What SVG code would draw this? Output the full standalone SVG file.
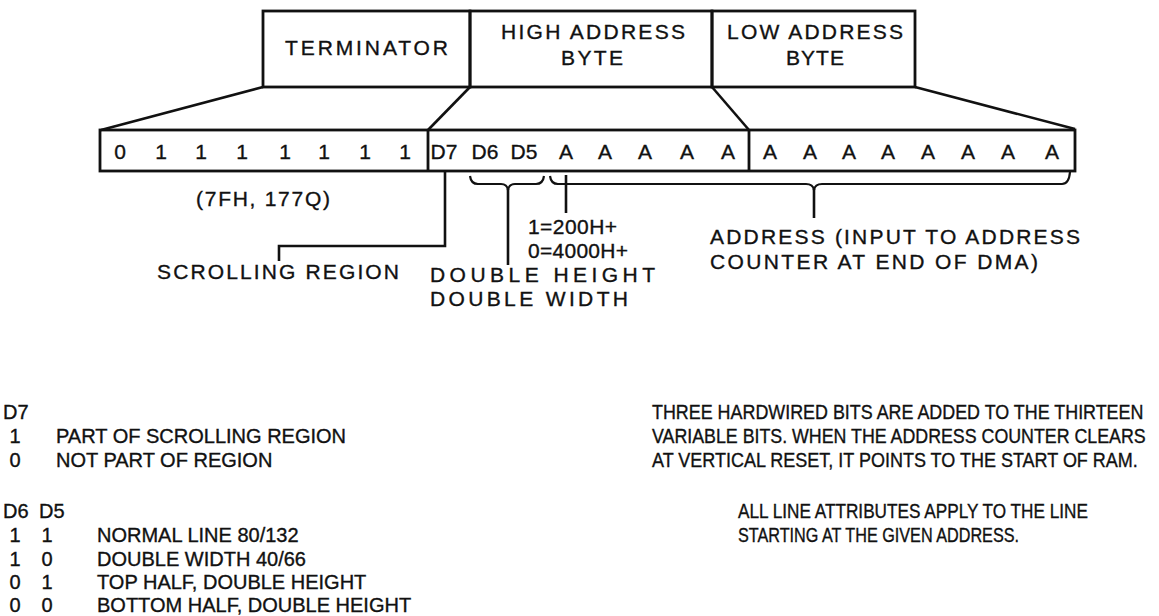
<svg xmlns="http://www.w3.org/2000/svg" width="1159" height="616" viewBox="0 0 1159 616">
<style>
  text { font-family: "Liberation Sans", Arial, sans-serif; fill: #111; stroke: #111; stroke-width: 0.35; }
  .lbl { font-size: 21px; }
  .bit { font-size: 21px; text-anchor: middle; }
  .body { font-size: 20px; }
  .mid { text-anchor: middle; }
  .box { fill: none; stroke: #111; stroke-width: 2.8; }
  .conn { fill: none; stroke: #111; stroke-width: 2.6; stroke-linejoin: miter; }
  .brace { fill: none; stroke: #111; stroke-width: 2.2; }
</style>
<rect width="1159" height="616" fill="#fff"/>

<g id="terminator-box">
  <rect class="box" x="263" y="11" width="207" height="76"/>
  <text class="lbl" x="285" y="55" textLength="163" lengthAdjust="spacing">TERMINATOR</text>
</g>
<g id="high-address-box">
  <rect class="box" x="470" y="11" width="242" height="76"/>
  <text class="lbl" x="501" y="39" textLength="184" lengthAdjust="spacing">HIGH ADDRESS</text>
  <text class="lbl mid" x="592" y="65" textLength="62" lengthAdjust="spacing">BYTE</text>
</g>
<g id="low-address-box">
  <rect class="box" x="712" y="11" width="203" height="76"/>
  <text class="lbl" x="727" y="39" textLength="176" lengthAdjust="spacing">LOW ADDRESS</text>
  <text class="lbl mid" x="815" y="65" textLength="58" lengthAdjust="spacing">BYTE</text>
</g>

<g id="bit-row">
  <rect class="box" x="100" y="130" width="975" height="41"/>
  <line class="box" x1="428" y1="130" x2="428" y2="171"/>
  <line class="box" x1="749" y1="130" x2="749" y2="171"/>
  <text class="bit" x="120" y="159">0</text>
  <text class="bit" x="161" y="159">1</text>
  <text class="bit" x="201" y="159">1</text>
  <text class="bit" x="242" y="159">1</text>
  <text class="bit" x="285" y="159">1</text>
  <text class="bit" x="324" y="159">1</text>
  <text class="bit" x="365" y="159">1</text>
  <text class="bit" x="405" y="159">1</text>
  <text class="bit" x="444" y="159">D7</text>
  <text class="bit" x="485" y="159">D6</text>
  <text class="bit" x="524" y="159">D5</text>
  <text class="bit" x="566" y="159">A</text>
  <text class="bit" x="605" y="159">A</text>
  <text class="bit" x="645" y="159">A</text>
  <text class="bit" x="687" y="159">A</text>
  <text class="bit" x="728" y="159">A</text>
  <text class="bit" x="770" y="159">A</text>
  <text class="bit" x="810" y="159">A</text>
  <text class="bit" x="849" y="159">A</text>
  <text class="bit" x="888" y="159">A</text>
  <text class="bit" x="928" y="159">A</text>
  <text class="bit" x="968" y="159">A</text>
  <text class="bit" x="1008" y="159">A</text>
  <text class="bit" x="1052" y="159">A</text>
</g>

<g id="connectors">
  <line class="conn" x1="263" y1="87" x2="101" y2="130"/>
  <line class="conn" x1="470" y1="87" x2="428" y2="130"/>
  <line class="conn" x1="712" y1="87" x2="749" y2="130"/>
  <line class="conn" x1="915" y1="87" x2="1075" y2="129"/>
  <path class="conn" d="M445 171 V246 H279 V261"/>
  <path class="brace" d="M470 176 Q471 184 478 184 H501 Q507 184 508 190 Q509 184 515 184 H536 Q543 184 544 176"/>
  <line class="conn" x1="508" y1="189" x2="508" y2="265"/>
  <path class="brace" d="M550 176 Q551 184 558 184 H806 Q813 184 814 190 Q815 184 822 184 H1062 Q1069 184 1070 172"/>
  <line class="conn" x1="814" y1="189" x2="814" y2="218"/>
  <line class="conn" x1="566" y1="175" x2="566" y2="213"/>
</g>

<g id="bit-labels">
  <text class="lbl" x="196" y="206" textLength="134" lengthAdjust="spacing">(7FH, 177Q)</text>
  <text class="lbl" x="157" y="279" textLength="242" lengthAdjust="spacing">SCROLLING REGION</text>
  <text class="lbl" x="528" y="234" textLength="89" lengthAdjust="spacing">1=200H+</text>
  <text class="lbl" x="528" y="258" textLength="100" lengthAdjust="spacing">0=4000H+</text>
  <text class="lbl" x="430" y="282" textLength="225" lengthAdjust="spacing">DOUBLE HEIGHT</text>
  <text class="lbl" x="430" y="306" textLength="198" lengthAdjust="spacing">DOUBLE WIDTH</text>
  <text class="lbl" x="710" y="244" textLength="370" lengthAdjust="spacing">ADDRESS (INPUT TO ADDRESS</text>
  <text class="lbl" x="710" y="269" textLength="328" lengthAdjust="spacing">COUNTER AT END OF DMA)</text>
</g>

<g id="d7-legend">
  <text class="body" x="3" y="419">D7</text>
  <text class="body mid" x="15" y="443">1</text>
  <text class="body" x="56" y="443">PART OF SCROLLING REGION</text>
  <text class="body mid" x="15" y="467">0</text>
  <text class="body" x="56" y="467">NOT PART OF REGION</text>
</g>

<g id="d6d5-legend">
  <text class="body" x="3" y="518">D6</text>
  <text class="body" x="39" y="518">D5</text>
  <text class="body mid" x="15" y="542">1</text>
  <text class="body mid" x="47" y="542">1</text>
  <text class="body" x="97" y="542">NORMAL LINE 80/132</text>
  <text class="body mid" x="15" y="566">1</text>
  <text class="body mid" x="47" y="566">0</text>
  <text class="body" x="97" y="566">DOUBLE WIDTH 40/66</text>
  <text class="body mid" x="15" y="589">0</text>
  <text class="body mid" x="47" y="589">1</text>
  <text class="body" x="97" y="589">TOP HALF, DOUBLE HEIGHT</text>
  <text class="body mid" x="15" y="612">0</text>
  <text class="body mid" x="47" y="612">0</text>
  <text class="body" x="97" y="612">BOTTOM HALF, DOUBLE HEIGHT</text>
</g>

<g id="notes">
  <text class="body" transform="translate(652 419) scale(0.895 1)">THREE HARDWIRED BITS ARE ADDED TO THE THIRTEEN</text>
  <text class="body" transform="translate(652 443) scale(0.89 1)">VARIABLE BITS. WHEN THE ADDRESS COUNTER CLEARS</text>
  <text class="body" transform="translate(652 467) scale(0.9 1)">AT VERTICAL RESET, IT POINTS TO THE START OF RAM.</text>
  <text class="body" transform="translate(738 518) scale(0.86 1)">ALL LINE ATTRIBUTES APPLY TO THE LINE</text>
  <text class="body" transform="translate(738 542) scale(0.81 1)">STARTING AT THE GIVEN ADDRESS.</text>
</g>
</svg>
